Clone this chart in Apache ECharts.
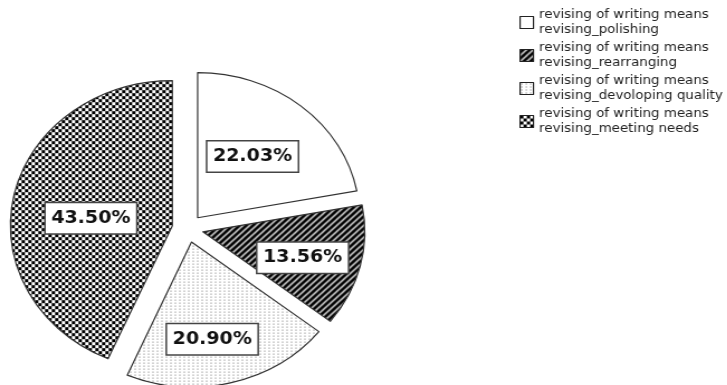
<!DOCTYPE html>
<html>
<head>
<meta charset="utf-8">
<script src="https://cdn.jsdelivr.net/npm/echarts@6/dist/echarts.min.js"></script>
<style>
  html, body { margin: 0; padding: 0; background: #fff; overflow: hidden; }
  #wrap { width: 727px; height: 385px; overflow: hidden; }
  /* The chart is laid out on a narrower canvas and widened, giving the oval pie */
  #chart { width: 651px; height: 385px; transform: scaleX(1.117); transform-origin: 0 0; }
</style>
</head>
<body>
<div id="wrap"><div id="chart"></div></div>
<script>
// Survey answers: what revising of writing means
const categories = [
  'revising of writing means\nrevising_polishing',
  'revising of writing means\nrevising_rearranging',
  'revising of writing means\nrevising_devoloping quality',
  'revising of writing means\nrevising_meeting needs'
];
const shares = [22.03, 13.56, 20.90, 43.50];

// Label nudges (px) so each value box sits where the slice leaves room
const labelNudge = [[1, -3], [16, 8], [0, 24], [1, 8]];

function tile(w, h, draw) {
  const c = document.createElement('canvas');
  c.width = w; c.height = h;
  const g = c.getContext('2d');
  draw(g, w, h);
  return { image: c, repeat: 'repeat' };
}

// Fill patterns: plain, diagonal hatch, fine dots, checkerboard
const fills = [
  '#ffffff',
  tile(6, 6, (g, w, h) => {
    g.fillStyle = '#000'; g.fillRect(0, 0, w, h);
    g.strokeStyle = '#fff'; g.lineWidth = 1.3;
    g.beginPath();
    g.moveTo(-1, h + 1); g.lineTo(w + 1, -1);
    g.moveTo(-1, 1); g.lineTo(1, -1);
    g.moveTo(w - 1, h + 1); g.lineTo(w + 1, h - 1);
    g.stroke();
  }),
  tile(4, 3, (g, w, h) => {
    g.fillStyle = '#fff'; g.fillRect(0, 0, w, h);
    g.fillStyle = '#777'; g.fillRect(1, 1, 1, 1);
  }),
  tile(6, 6, (g, w, h) => {
    g.fillStyle = '#fff'; g.fillRect(0, 0, w, h);
    g.fillStyle = '#000';
    g.fillRect(0, 0, 3, 3); g.fillRect(3, 3, 3, 3);
  })
];

const chart = echarts.init(document.getElementById('chart'), null, { renderer: 'canvas' });

const slices = categories.map((name, i) => {
  const style = { color: fills[i], borderColor: '#333', borderWidth: 1.2 };
  return {
    name: name,
    value: shares[i],
    selected: true,
    itemStyle: style,
    select: { itemStyle: style }
  };
});

const valueBox = {
  show: true,
  position: 'inside',
  formatter: p => p.value.toFixed(2) + '%',
  fontFamily: 'DejaVu Sans',
  fontWeight: 'bold',
  fontSize: 17,
  lineHeight: 18,
  color: '#111',
  backgroundColor: '#fff',
  borderColor: '#444',
  borderWidth: 1.5,
  padding: [6, 5, 6, 5]
};

chart.setOption({
  animation: false,
  backgroundColor: '#fff',
  legend: {
    orient: 'vertical',
    left: 465,
    top: 3,
    padding: 0,
    itemGap: -6,
    itemWidth: 12,
    itemHeight: 12,
    icon: 'rect',
    selectedMode: false,
    data: categories,
    itemStyle: { borderColor: '#222', borderWidth: 1.2 },
    textStyle: {
      fontFamily: 'DejaVu Sans',
      fontSize: 12,
      lineHeight: 15,
      color: '#222',
      padding: [9, 0, 0, 0]
    }
  },
  series: [{
    type: 'pie',
    center: [168, 228.5],
    radius: 145,
    startAngle: 90,
    clockwise: true,
    selectedMode: 'multiple',
    selectedOffset: 14,
    avoidLabelOverlap: false,
    emphasis: { disabled: true },
    label: valueBox,
    labelLine: { show: false },
    labelLayout: p => ({ dx: labelNudge[p.dataIndex][0], dy: labelNudge[p.dataIndex][1] }),
    data: slices
  }]
});
</script>
</body>
</html>
